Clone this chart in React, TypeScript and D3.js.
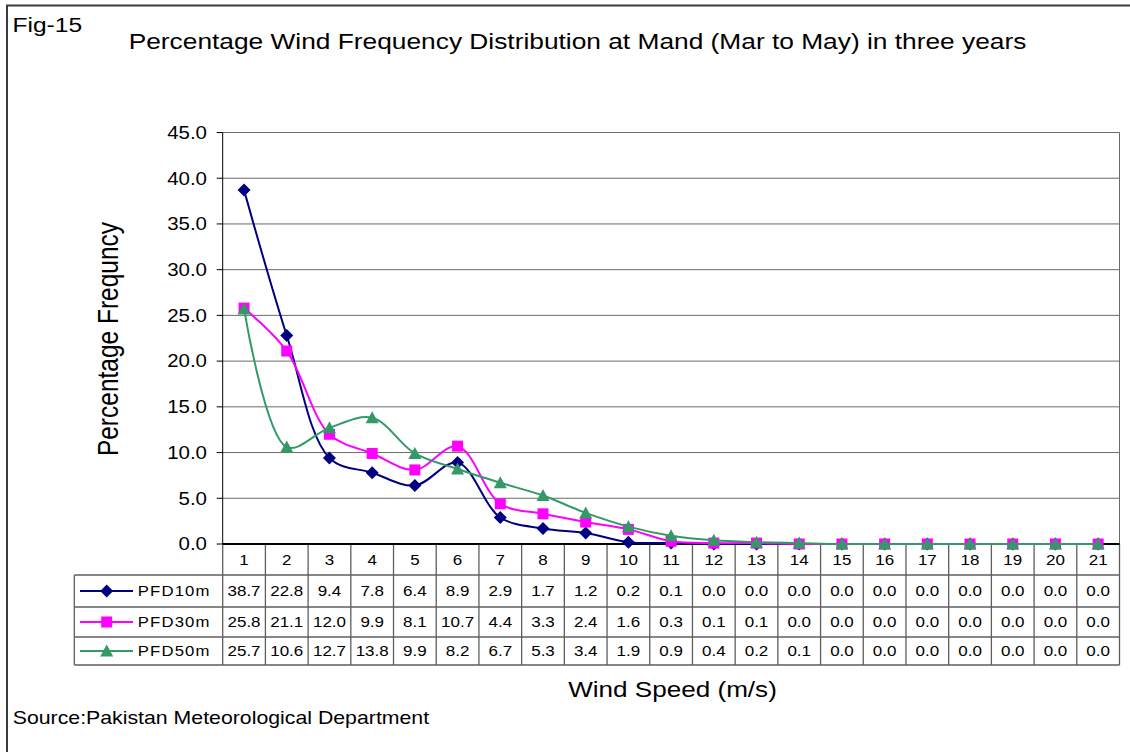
import React from 'react';
import * as d3 from 'd3';

const categories = ['1','2','3','4','5','6','7','8','9','10','11','12','13','14','15','16','17','18','19','20','21'];
const pfd10m = [38.7,22.8,9.4,7.8,6.4,8.9,2.9,1.7,1.2,0.2,0.1,0.0,0.0,0.0,0.0,0.0,0.0,0.0,0.0,0.0,0.0];
const pfd30m = [25.8,21.1,12.0,9.9,8.1,10.7,4.4,3.3,2.4,1.6,0.3,0.1,0.1,0.0,0.0,0.0,0.0,0.0,0.0,0.0,0.0];
const pfd50m = [25.7,10.6,12.7,13.8,9.9,8.2,6.7,5.3,3.4,1.9,0.9,0.4,0.2,0.1,0.0,0.0,0.0,0.0,0.0,0.0,0.0];
const seriesNames = ['PFD10m','PFD30m','PFD50m'];
const yTicks = [0,5,10,15,20,25,30,35,40,45];

const W = 1130, H = 752;
const SX = 1.17;
const FONT = 'Arial, "Liberation Sans", Helvetica, sans-serif';

const plotL = 222.7, plotR = 1119.5, plotT = 132.5, plotB = 544;
const tableL = 74.3;
const rowEdges = [544, 575, 607, 637, 665];

const colors = ['#000080', '#FF00FF', '#339966'];

function T({x, y, size, anchor = 'start', children, rotate = 0, spacing = 0, baseline}: any) {
  const tr = `translate(${x},${y}) scale(${SX},1)` + (rotate ? ` rotate(${rotate})` : '');
  return (
    <text transform={tr} fontSize={size} textAnchor={anchor} fontFamily={FONT} fill="#000"
      letterSpacing={spacing} dominantBaseline={baseline}>{children}</text>
  );
}

function marker(kind: number, cx: number, cy: number, color: string, key: any, s = 1) {
  if (kind === 0) {
    const r = 6.5 * s;
    return <path key={key} d={`M${cx},${cy - r}L${cx + r},${cy}L${cx},${cy + r}L${cx - r},${cy}Z`} fill={color} />;
  }
  if (kind === 1) {
    const r = 5.5 * s;
    return <rect key={key} x={cx - r} y={cy - r} width={2 * r} height={2 * r} fill={color} />;
  }
  const r = 6.5 * s;
  return <path key={key} d={`M${cx},${cy - r}L${cx + r},${cy + 5.5 * s}L${cx - r},${cy + 5.5 * s}Z`} fill={color} />;
}

export default function App() {
  const x = d3.scaleBand<string>().domain(categories).range([plotL, plotR]);
  const bw = x.bandwidth();
  const cx = (c: string) => (x(c) as number) + bw / 2;
  const y = d3.scaleLinear().domain([0, 45]).range([plotB, plotT]);
  const series = [pfd10m, pfd30m, pfd50m];
  const line = d3.line<number>()
    .x((_, i) => cx(categories[i]))
    .y(d => y(d))
    .curve(d3.curveCatmullRom.alpha(0.5));

  const gridColor = '#6a6a6a';
  const tableColor = '#5e5e5e';

  return (
    <svg width={W} height={H} style={{position: 'absolute', left: 0, top: 0, background: '#fff'}}>
      <rect x={0} y={0} width={W} height={H} fill="#fff" />
      <rect x={7} y={5.5} width={W + 20} height={H + 20} fill="none" stroke="#3a3a3a" strokeWidth={2} />

      <T x={12.5} y={31.5} size={21}>Fig-15</T>
      <T x={577.5} y={49.3} size={22.5} anchor="middle">Percentage Wind Frequency Distribution at Mand (Mar to May) in three years</T>

      {/* gridlines */}
      {yTicks.filter(t => t > 0).map(t => (
        <line key={'g' + t} x1={plotL} x2={plotR} y1={y(t)} y2={y(t)} stroke={gridColor} strokeWidth={1} />
      ))}
      <line x1={plotR} x2={plotR} y1={plotT} y2={plotB} stroke={gridColor} strokeWidth={1} />
      {/* y axis */}
      <line x1={plotL} x2={plotL} y1={plotT} y2={plotB} stroke="#000" strokeWidth={1} />
      {yTicks.map(t => (
        <g key={'t' + t}>
          <line x1={plotL - 6} x2={plotL} y1={y(t)} y2={y(t)} stroke="#000" strokeWidth={1} />
          <T x={207} y={y(t) + 6.3} size={17.5} anchor="end">{d3.format('.1f')(t)}</T>
        </g>
      ))}
      <T x={118} y={339} size={24.5} anchor="middle" rotate={-90}>Percentage Frequncy</T>

      {/* table */}
      {rowEdges.slice(1).map((ry, i) => (
        <line key={'h' + i} x1={tableL} x2={plotR} y1={ry} y2={ry} stroke={tableColor} strokeWidth={1.3} />
      ))}
      <line x1={tableL} x2={tableL} y1={rowEdges[1]} y2={rowEdges[4]} stroke={tableColor} strokeWidth={1.3} />
      {categories.map(c => (
        <line key={'v' + c} x1={x(c) as number} x2={x(c) as number} y1={plotB} y2={rowEdges[4]} stroke={tableColor} strokeWidth={1.3} />
      ))}
      <line x1={plotR} x2={plotR} y1={plotB} y2={rowEdges[4]} stroke={tableColor} strokeWidth={1.3} />
      {categories.map(c => (
        <T key={'c' + c} x={cx(c)} y={(rowEdges[0] + rowEdges[1]) / 2 + 5.3} size={14.5} anchor="middle">{c}</T>
      ))}
      {series.map((s, si) => {
        const my = (rowEdges[si + 1] + rowEdges[si + 2]) / 2;
        return (
          <g key={'row' + si}>
            <line x1={80} x2={133} y1={my} y2={my} stroke={colors[si]} strokeWidth={2} />
            {marker(si, 106.7, my, colors[si], 'lm' + si)}
            <T x={137.7} y={my + 5.3} size={14.3} spacing={1}>{seriesNames[si]}</T>
            {s.map((v, i) => (
              <T key={'v' + i} x={cx(categories[i])} y={my + 5.3} size={14.5} anchor="middle">{d3.format('.1f')(v)}</T>
            ))}
          </g>
        );
      })}

      {/* zero axis */}
      <line x1={plotL} x2={plotR} y1={plotB} y2={plotB} stroke="#000" strokeWidth={2} />

      {/* series */}
      {series.map((s, si) => (
        <g key={'s' + si}>
          <path d={line(s) as string} fill="none" stroke={colors[si]} strokeWidth={2} />
          {s.map((v, i) => marker(si, cx(categories[i]), y(v), colors[si], 'm' + i))}
        </g>
      ))}

      <T x={672.5} y={697} size={22.3} anchor="middle">Wind Speed (m/s)</T>
      <T x={12.7} y={724.3} size={18.2} >Source:Pakistan Meteorological Department</T>
    </svg>
  );
}
